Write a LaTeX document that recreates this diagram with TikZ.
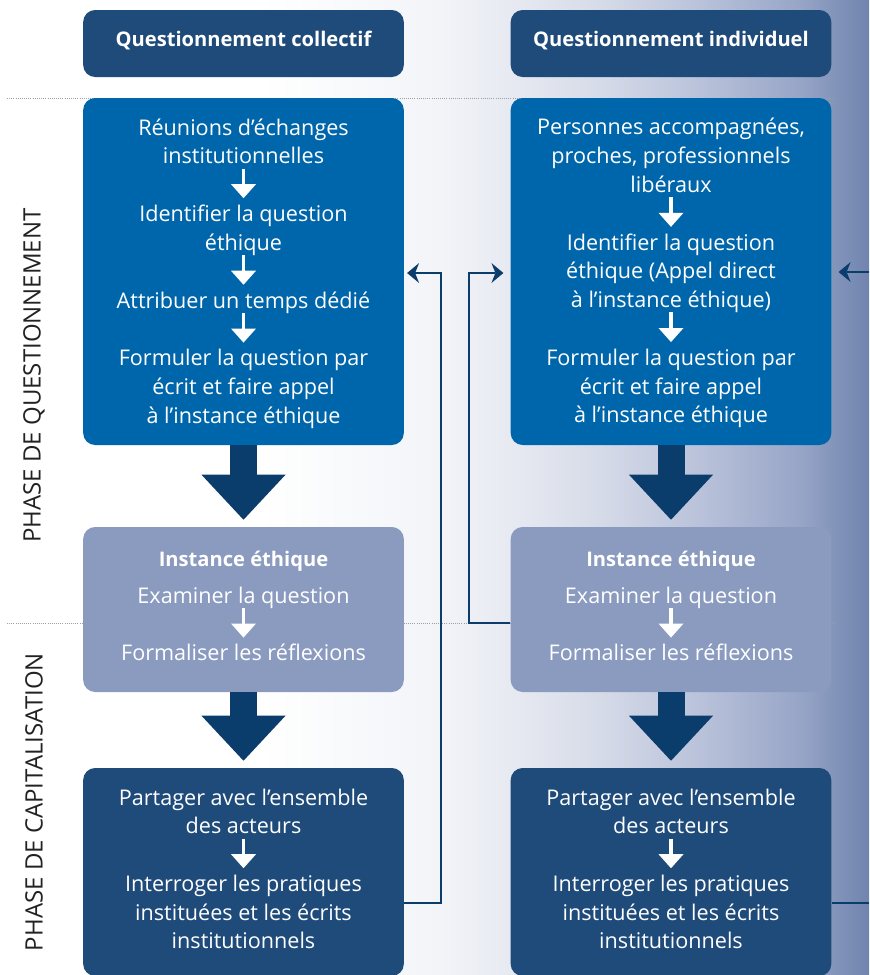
\documentclass[tikz,border=0pt]{standalone}
\usepackage{fontspec}
\setmainfont{Open Sans}
\usetikzlibrary{arrows.meta,positioning}
\definecolor{hdr}{HTML}{1F4B7A}
\definecolor{mainb}{HTML}{0066AB}
\definecolor{inst}{HTML}{8A9BBF}
\definecolor{arr}{HTML}{0B3D6C}
\definecolor{gA}{HTML}{F2F4F8}
\definecolor{gB}{HTML}{E5E8F0}
\definecolor{gC}{HTML}{D6DBE8}
\definecolor{gD}{HTML}{B9C2DA}
\definecolor{gE}{HTML}{97A5C7}
\definecolor{gF}{HTML}{7084AE}
\definecolor{phasetxt}{HTML}{222222}
\definecolor{dotc}{HTML}{A0A0A0}
\pgfdeclarehorizontalshading{bgshade}{100bp}{color(0bp)=(white); color(40bp)=(white); color(50.3bp)=(gA); color(55bp)=(gB); color(59.5bp)=(gC); color(65.3bp)=(gD); color(71bp)=(gE); color(75bp)=(gF); color(100bp)=(gF)}
\begin{document}
\begin{tikzpicture}[x=0.75pt,y=-0.75pt,
  boxbase/.style={rectangle, rounded corners=9pt, minimum width=240.5pt, inner sep=0pt, draw=none},
  hdrbox/.style={boxbase, fill=hdr, minimum height=50.25pt, text=white,
     font=\fontsize{15.1pt}{18pt}\selectfont\bfseries, text height=11pt, text depth=6.2pt},
  mainbox/.style={boxbase, fill=mainb, minimum height=260.25pt},
  instbox/.style={boxbase, fill=inst, minimum height=123.75pt},
  botbox/.style={boxbase, fill=hdr, minimum height=156pt},
  txt/.style={inner sep=0pt, align=center, text=white, font=\fontsize{16.2pt}{21.5pt}\selectfont},
  ttl/.style={inner sep=0pt, align=center, text=white, font=\fontsize{15.1pt}{21.5pt}\selectfont\bfseries},
  smallarr/.style={draw=white, line width=2.8pt, shorten <=-3pt, shorten >=2.25pt,
     -{Triangle[length=10.5pt,width=18.75pt,line width=0pt]}},
  bigarr/.style={draw=arr, line width=20.25pt, shorten >=5.25pt,
     -{Triangle[length=33.75pt,width=63pt,line width=0pt]}},
  conn/.style={draw=arr, line width=2pt},
  connarr/.style={conn, -{Stealth[length=9pt,width=15pt,inset=3pt,line width=0pt]}},
  phaseline/.style={draw=dotc, line width=0.7pt, dash pattern=on 0.7pt off 0.9pt},
  phase/.style={inner sep=0pt, text=phasetxt, font=\fontsize{18pt}{20pt}\selectfont, rotate=90}
]
\useasboundingbox (0,0) rectangle (869,975);
\fill[shading=bgshade] (0,0) rectangle (869,975);

% phase separators
\coordinate (d1a) at (7,98);   \coordinate (d1b) at (833,98);
\coordinate (d2a) at (7,623);  \coordinate (d2b) at (833,623);
\draw[phaseline] (d1a) -- (d1b);
\draw[phaseline] (d2a) -- (d2b);

% phase labels
\node[phase] (pq) at (34,375.5) {PHASE DE QUESTIONNEMENT};
\node[phase] (pc) at (34,802) {PHASE DE CAPITALISATION};

% headers
\node[hdrbox] (hL) at (243.5,43.5) {Questionnement collectif};
\node[hdrbox] (hR) at (671,43.5) {Questionnement individuel};

% boxes
\node[mainbox] (mL) at (243.5,271.5) {};
\node[mainbox] (mR) at (671,271.5) {};
\node[instbox] (iL) at (243.5,609.5) {};
\node[instbox] (iR) at (671,609.5) {};
\node[botbox] (bL) at (243.5,872) {};
\node[botbox] (bR) at (671,872) {};

% left main box text
\node[txt] (l1) at (243.5,143.6) {Réunions d’échanges\strut\\institutionnelles\strut};
\node[txt, below=21.5pt of l1] (l2) {Identifier la question\strut\\éthique\strut};
\node[txt, below=21.5pt of l2] (l3) {Attribuer un temps dédié\strut};
\node[txt, below=21.5pt of l3] (l4) {Formuler la question par\strut\\écrit et faire appel\strut\\à l’instance éthique\strut};
\draw[smallarr] (l1) -- (l2);
\draw[smallarr] (l2) -- (l3);
\draw[smallarr] (l3) -- (l4);

% right main box text
\node[txt] (r1) at (671,157.9) {Personnes accompagnées,\strut\\proches, professionnels\strut\\libéraux\strut};
\node[txt, below=21.5pt of r1] (r2) {Identifier la question\strut\\éthique (Appel direct\strut\\à l’instance éthique)\strut};
\node[txt, below=21.5pt of r2] (r3) {Formuler la question par\strut\\écrit et faire appel\strut\\à l’instance éthique\strut};
\draw[smallarr] (r1) -- (r2);
\draw[smallarr] (r2) -- (r3);

% instance boxes text
\node[ttl] (itL) at (243.5,561) {Instance éthique\strut};
\node[txt] (ieL) at (243.5,597.3) {Examiner la question\strut};
\node[txt, below=21.5pt of ieL] (ifL) {Formaliser les réflexions\strut};
\draw[smallarr] (ieL) -- (ifL);
\node[ttl] (itR) at (671,561) {Instance éthique\strut};
\node[txt] (ieR) at (671,597.3) {Examiner la question\strut};
\node[txt, below=21.5pt of ieR] (ifR) {Formaliser les réflexions\strut};
\draw[smallarr] (ieR) -- (ifR);

% bottom boxes text
\node[txt] (bL1) at (243.5,813.6) {Partager avec l’ensemble\strut\\des acteurs\strut};
\node[txt, below=21.5pt of bL1] (bL2) {Interroger les pratiques\strut\\instituées et les écrits\strut\\institutionnels\strut};
\draw[smallarr] (bL1) -- (bL2);
\node[txt] (bR1) at (671,813.6) {Partager avec l’ensemble\strut\\des acteurs\strut};
\node[txt, below=21.5pt of bR1] (bR2) {Interroger les pratiques\strut\\instituées et les écrits\strut\\institutionnels\strut};
\draw[smallarr] (bR1) -- (bR2);

% big arrows
\draw[bigarr] (mL) -- (iL);
\draw[bigarr] (iL) -- (bL);
\draw[bigarr] (mR) -- (iR);
\draw[bigarr] (iR) -- (bR);

% feedback connectors
\coordinate (lp1) at (441,903);
\coordinate (lp2) at (441,273);
\draw[connarr, shorten >=2.25pt] (bL.east |- lp1) -- (lp1) -- (lp2) -- (mL.east |- lp2);
\coordinate (rp1) at (469,623);
\coordinate (rp2) at (469,273);
\draw[connarr, shorten >=5.25pt] (iR.west |- rp1) -- (rp1) -- (rp2) -- (mR.west |- rp2);
\coordinate (e1) at (869,903);
\draw[conn] (bR.east |- e1) -- (e1);
\coordinate (e2) at (869,272);
\draw[connarr, shorten >=5.25pt] (e2) -- (mR.east |- e2);
\end{tikzpicture}
\end{document}
